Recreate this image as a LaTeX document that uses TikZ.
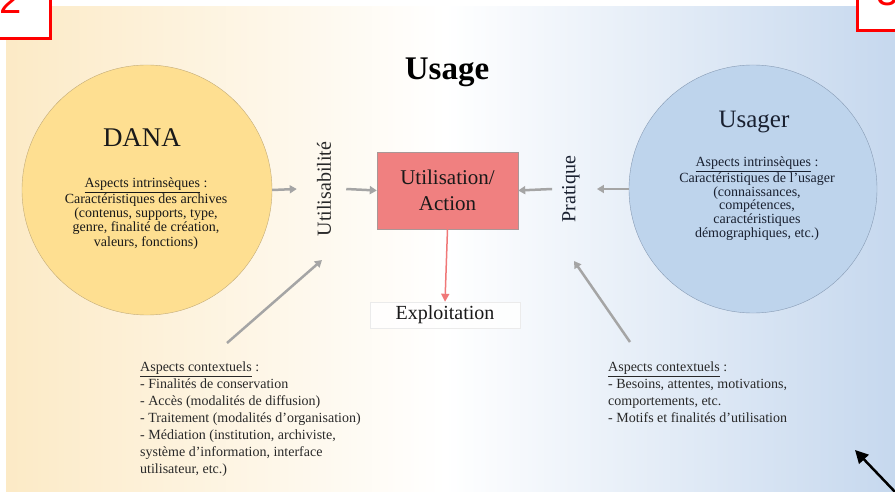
\documentclass[tikz,border=0pt]{standalone}
\usepackage{fontspec}
\setmainfont{Liberation Serif}
\newfontfamily\numfont{Liberation Sans}
\usetikzlibrary{arrows.meta}
\definecolor{bgleft}{RGB}{252,234,198}
\definecolor{bgright}{RGB}{198,216,238}
\definecolor{danafill}{RGB}{254,223,145}
\definecolor{danaborder}{RGB}{195,172,120}
\definecolor{usafill}{RGB}{190,212,236}
\definecolor{usaborder}{RGB}{135,155,180}
\definecolor{boxfill}{RGB}{240,128,128}
\definecolor{boxborder}{RGB}{170,150,150}
\definecolor{arrgray}{RGB}{165,165,165}
\definecolor{redarr}{RGB}{240,120,120}
\definecolor{txt}{RGB}{40,40,40}
\definecolor{dtxt}{RGB}{25,25,25}
\definecolor{utxt}{RGB}{25,32,48}
\definecolor{marker}{RGB}{255,0,0}
\tikzset{
  garr/.style={draw=arrgray, line width=2.5pt, -{Triangle[length=7pt,width=8pt]}},
  intr/.style={align=center, text=dtxt, inner sep=0pt},
  ctx/.style={align=left, text=txt, inner sep=0pt, anchor=north west,
    font=\fontsize{14}{17}\selectfont},
  vlabel/.style={rotate=90, inner sep=0pt, text=txt, font=\fontsize{20}{24}\selectfont},
  markbox/.style={draw=marker, line width=3pt, fill=white},
}
\begin{document}
\begin{tikzpicture}[x=1pt,y=-1pt]
\useasboundingbox (0,0) rectangle (895,492);
\fill[white] (0,0) rectangle (895,492);
\shade[left color=bgleft, right color=white] (6,7) rectangle (445,492);
\shade[left color=white, right color=bgright] (445,7) rectangle (895,492);

% marker boxes
\draw[markbox] (-5,-5) rectangle (50.5,38.5);
\node[anchor=base west, inner sep=0pt, text=marker, font=\numfont\fontsize{40}{40}\selectfont] (n2) at (-1,14) {2};
\draw[markbox] (857.5,30.5) rectangle (905,-5);
\node[anchor=base west, inner sep=0pt, text=marker, font=\numfont\fontsize{40}{40}\selectfont] (n3) at (876,6) {3};

% circles
\node[circle, draw=danaborder, fill=danafill, minimum size=250pt, inner sep=0pt] (dana) at (147,190) {};
\node[circle, draw=usaborder, fill=usafill, minimum size=248pt, inner sep=0pt] (usager) at (753,189) {};

% titles
\node[anchor=base, inner sep=0pt, font=\bfseries\fontsize{33}{36}\selectfont] (title) at (447,80) {Usage};
\node[anchor=base, inner sep=0pt, text=dtxt, font=\fontsize{27}{30}\selectfont] (danat) at (142,147) {DANA};
\node[anchor=base, inner sep=0pt, text=utxt, font=\fontsize{25}{28}\selectfont] (usagert) at (754,128) {Usager};

% intrinsic aspects (base anchor = baseline of last line)
\node[intr, font=\fontsize{14}{14.3}\selectfont, anchor=base] (danai) at (146,246)
  {\underline{Aspects intrinsèques} :\\Caractéristiques des archives\\(contenus, supports, type,\\genre, finalité de création,\\valeurs, fonctions)};
\node[intr, text=utxt, font=\fontsize{14}{13.6}\selectfont, anchor=base] (usageri) at (757,237)
  {\underline{Aspects intrinsèques} :\\Caractéristiques de l’usager\\(connaissances,\\compétences,\\caractéristiques\\démographiques, etc.)};

% central box
\node[draw=boxborder, fill=boxfill, minimum width=141pt, minimum height=77pt, align=center,
  text=dtxt, font=\fontsize{21}{26}\selectfont] (act) at (447.5,190.5) {Utilisation/\\Action};
\node[fill=white, fill opacity=0.85, text opacity=1, draw=black!8, minimum width=150pt, minimum height=26pt,
  inner sep=0pt, text=dtxt, font=\fontsize{20}{24}\selectfont] (exp) at (445,315) {Exploitation};

% vertical labels
\node[vlabel] (util) at (324,189) {Utilisabilité};
\node[vlabel, text=utxt] (prat) at (571,189) {Pratique};

% contextual aspects
\node[ctx] (ctxl) at (140,362) {\underline{Aspects contextuels} :\\- Finalités de conservation\\- Accès (modalités de diffusion)\\- Traitement (modalités d’organisation)\\- Médiation (institution, archiviste,\\système d’information, interface\\utilisateur, etc.)};
\node[ctx] (ctxr) at (608,362) {\underline{Aspects contextuels} :\\- Besoins, attentes, motivations,\\comportements, etc.\\- Motifs et finalités d’utilisation};

% arrows
\draw[garr] (dana.east) -- ([xshift=-20pt]util.north);
\draw[garr] ([xshift=15pt]util.south) -- (act.west);
\draw[garr] ([xshift=-10pt]prat.north) -- (act.east);
\draw[garr] (usager.west) -- ([xshift=17pt]prat.south);
\draw[garr] ([shift={(87,-19)}]ctxl.north west) -- (322,260);
\draw[garr] ([shift={(22,-20)}]ctxr.north west) -- (574,261);
\draw[draw=redarr, line width=1.5pt, -{Triangle[length=8pt,width=8pt]}] (act.south) -- (exp.north);

% black pointer
\coordinate (ptail) at (898,495);
\coordinate (ptip) at (855,450);
\draw[black, line width=2.5pt, -{Triangle[length=13pt,width=13pt]}] (ptail) -- (ptip);
\end{tikzpicture}
\end{document}
